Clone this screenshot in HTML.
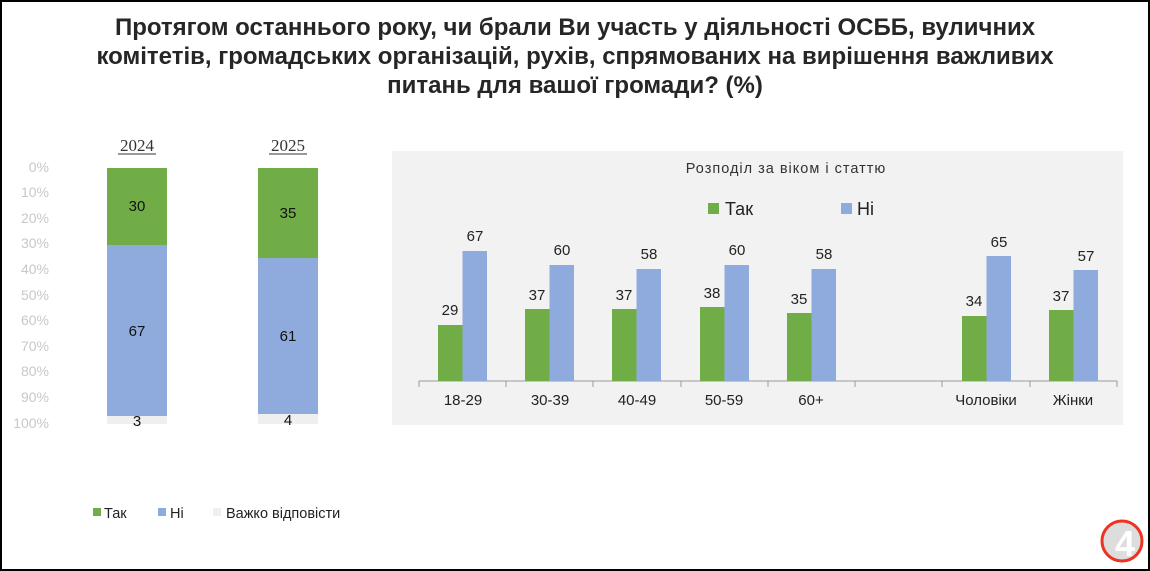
<!DOCTYPE html>
<html><head><meta charset="utf-8"><style>
body{margin:0;width:1150px;height:571px;overflow:hidden;background:#fff;font-family:"Liberation Sans",sans-serif}
#f{position:absolute;left:0;top:0;width:1146px;height:567px;border:2px solid #000}
.t{position:absolute;left:0;width:1150px;text-align:center;font-weight:bold;font-size:24px;color:#262626;line-height:29px;top:13px}
</style></head><body>
<div id="f"></div>
<div class="t">Протягом останнього року, чи брали Ви участь у діяльності ОСББ, вуличних<br>комітетів, громадських організацій, рухів, спрямованих на вирішення важливих<br>питань для вашої громади? (%)</div>
<svg width="1150" height="571" style="position:absolute;left:0;top:0" font-family="Liberation Sans, sans-serif">
<g font-size="14" fill="#c8c8c8" text-anchor="end">
<text x="49" y="172">0%</text><text x="49" y="197">10%</text><text x="49" y="223">20%</text><text x="49" y="248">30%</text><text x="49" y="274">40%</text><text x="49" y="300">50%</text><text x="49" y="325">60%</text><text x="49" y="351">70%</text><text x="49" y="376">80%</text><text x="49" y="402">90%</text><text x="49" y="428">100%</text>
</g>
<g font-family="Liberation Serif, serif" font-size="17" fill="#333" text-anchor="middle">
<text x="137" y="151">2024</text><line x1="118" y1="154" x2="156" y2="154" stroke="#333"/>
<text x="288" y="151">2025</text><line x1="269" y1="154" x2="307" y2="154" stroke="#333"/>
</g>
<rect x="107" y="168" width="60" height="77" fill="#70ad47"/>
<rect x="107" y="245" width="60" height="171" fill="#8faadc"/>
<rect x="107" y="416" width="60" height="8" fill="#efefef"/>
<rect x="258" y="168" width="60" height="90" fill="#70ad47"/>
<rect x="258" y="258" width="60" height="156" fill="#8faadc"/>
<rect x="258" y="414" width="60" height="10" fill="#efefef"/>
<g font-size="15" fill="#111" text-anchor="middle">
<text x="137" y="211">30</text><text x="137" y="336">67</text><text x="137" y="426">3</text>
<text x="288" y="218">35</text><text x="288" y="341">61</text><text x="288" y="425">4</text>
</g>
<rect x="392" y="151" width="731" height="274" fill="#f2f2f2"/>
<text x="786" y="173" font-size="14.5" fill="#333" text-anchor="middle" letter-spacing="1">Розподіл за віком і статтю</text>
<rect x="708" y="203" width="11" height="11" fill="#70ad47"/><text x="725" y="215" font-size="18" fill="#222">Так</text>
<rect x="841" y="203" width="11" height="11" fill="#8faadc"/><text x="857" y="215" font-size="18" fill="#222">Ні</text>
<line x1="419" y1="381" x2="1117" y2="381" stroke="#999"/>
<g stroke="#999">
<line x1="419" y1="381" x2="419" y2="387"/><line x1="506" y1="381" x2="506" y2="387"/><line x1="593" y1="381" x2="593" y2="387"/><line x1="681" y1="381" x2="681" y2="387"/><line x1="768" y1="381" x2="768" y2="387"/><line x1="855" y1="381" x2="855" y2="387"/><line x1="942" y1="381" x2="942" y2="387"/><line x1="1030" y1="381" x2="1030" y2="387"/><line x1="1117" y1="381" x2="1117" y2="387"/>
</g>
<g font-size="15" fill="#222" text-anchor="middle">
<text x="463" y="405">18-29</text><text x="550" y="405">30-39</text><text x="637" y="405">40-49</text><text x="724" y="405">50-59</text><text x="811" y="405">60+</text><text x="986" y="405">Чоловіки</text><text x="1073" y="405">Жінки</text>
</g>
<g font-size="15" fill="#222" text-anchor="middle">
<rect x="438" y="325" width="24.5" height="56" fill="#70ad47"/><rect x="462.5" y="251" width="24.5" height="130" fill="#8faadc"/><text x="450" y="315">29</text><text x="475" y="241">67</text>
<rect x="525" y="309" width="24.5" height="72" fill="#70ad47"/><rect x="549.5" y="265" width="24.5" height="116" fill="#8faadc"/><text x="537" y="300">37</text><text x="562" y="255">60</text>
<rect x="612" y="309" width="24.5" height="72" fill="#70ad47"/><rect x="636.5" y="269" width="24.5" height="112" fill="#8faadc"/><text x="624" y="300">37</text><text x="649" y="259">58</text>
<rect x="700" y="307" width="24.5" height="74" fill="#70ad47"/><rect x="724.5" y="265" width="24.5" height="116" fill="#8faadc"/><text x="712" y="298">38</text><text x="737" y="255">60</text>
<rect x="787" y="313" width="24.5" height="68" fill="#70ad47"/><rect x="811.5" y="269" width="24.5" height="112" fill="#8faadc"/><text x="799" y="304">35</text><text x="824" y="259">58</text>
<rect x="962" y="316" width="24.5" height="65" fill="#70ad47"/><rect x="986.5" y="256" width="24.5" height="125" fill="#8faadc"/><text x="974" y="306">34</text><text x="999" y="247">65</text>
<rect x="1049" y="310" width="24.5" height="71" fill="#70ad47"/><rect x="1073.5" y="270" width="24.5" height="111" fill="#8faadc"/><text x="1061" y="301">37</text><text x="1086" y="261">57</text>
</g>
<rect x="93" y="508" width="8" height="8" fill="#70ad47"/><text x="104" y="518" font-size="14.5" fill="#222">Так</text>
<rect x="158" y="508" width="8" height="8" fill="#8faadc"/><text x="170" y="518" font-size="14.5" fill="#222">Ні</text>
<rect x="213" y="508" width="8" height="8" fill="#efefef"/><text x="226" y="518" font-size="14.5" fill="#222">Важко відповісти</text>
<circle cx="1122" cy="541" r="20" fill="#ddd" stroke="#e32" stroke-width="3"/>
<text x="1125" y="556" font-size="36" font-weight="bold" fill="#fff" text-anchor="middle">4</text>
</svg>
</body></html>
